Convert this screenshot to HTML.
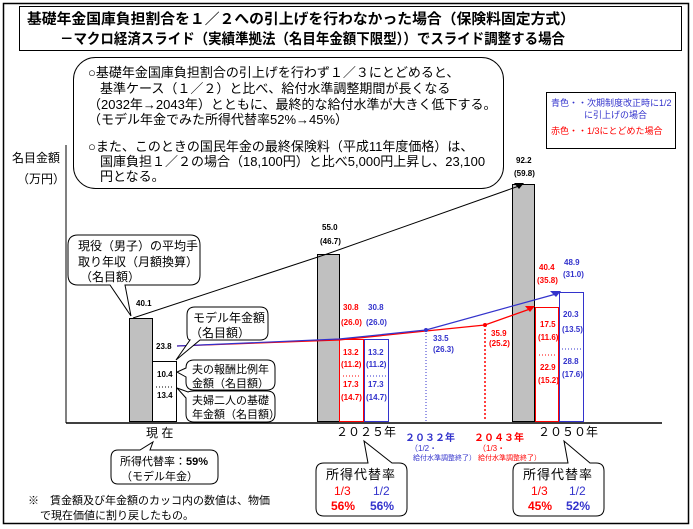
<!DOCTYPE html>
<html><head><meta charset="utf-8"><style>
html,body{margin:0;padding:0;background:#fff}
svg{display:block}
text{font-family:"Liberation Sans","Noto Sans CJK JP",sans-serif}
</style></head><body>
<svg width="693" height="529" viewBox="0 0 693 529" xmlns="http://www.w3.org/2000/svg">
<rect x="3.5" y="3.5" width="685" height="520" fill="#fff" stroke="#000" stroke-width="1.5"/>
<rect x="19.5" y="6.5" width="662" height="44" fill="#fff" stroke="#000"/>
<text x="27" y="24" font-size="14.5" font-weight="bold" textLength="548" lengthAdjust="spacingAndGlyphs">基礎年金国庫負担割合を１／２への引上げを行わなかった場合（保険料固定方式）</text>
<text x="60" y="44" font-size="14.5" font-weight="bold" textLength="505" lengthAdjust="spacingAndGlyphs">－マクロ経済スライド（実績準拠法（名目年金額下限型））でスライド調整する場合</text>

<rect x="73.5" y="57.5" width="430" height="131" rx="22" fill="#fff" stroke="#000"/>
<g font-size="13">
<text x="88" y="77">○基礎年金国庫負担割合の引上げを行わず１／３にとどめると、</text>
<text x="100" y="93">基準ケース（１／２）と比べ、給付水準調整期間が長くなる</text>
<text x="88" y="109">（2032年→2043年）とともに、最終的な給付水準が大きく低下する。</text>
<text x="88" y="124">（モデル年金でみた所得代替率52%→45%）</text>
<text x="88" y="151">○また、このときの国民年金の最終保険料（平成11年度価格）は、</text>
<text x="100" y="166">国庫負担１／２の場合（18,100円）と比べ5,000円上昇し、23,100</text>
<text x="100" y="181">円となる。</text>
</g>

<rect x="546.5" y="92.5" width="129" height="56" fill="#fff" stroke="#000"/>
<text x="551" y="106" font-size="9" fill="#3333cc">青色・・次期制度改正時に1/2</text>
<text x="584" y="118" font-size="9" fill="#3333cc">に引上げの場合</text>
<text x="551" y="134" font-size="9" fill="#ff0000">赤色・・1/3にとどめた場合</text>

<text x="12" y="162" font-size="12">名目金額</text>
<text x="17" y="183" font-size="12">（万円）</text>
<line x1="66" y1="145" x2="66" y2="423" stroke="#000"/>
<line x1="66" y1="423" x2="662" y2="423" stroke="#000" stroke-width="1.5"/>

<rect x="129.5" y="318.5" width="23" height="103" fill="#c0c0c0" stroke="#000"/>
<rect x="152.5" y="361.5" width="24" height="60" fill="#fff" stroke="#000"/>
<line x1="156" y1="387" x2="174" y2="387" stroke="#000" stroke-dasharray="1,2"/>
<rect x="317.5" y="254.5" width="22" height="167" fill="#c0c0c0" stroke="#000"/>
<rect x="339.5" y="339.5" width="24" height="82" fill="#fff" stroke="#f00"/>
<rect x="364.5" y="339.5" width="24" height="82" fill="#fff" stroke="#33c"/>
<line x1="343" y1="376" x2="361" y2="376" stroke="#f00" stroke-dasharray="1,2"/>
<line x1="367" y1="376" x2="386" y2="376" stroke="#33c" stroke-dasharray="1,2"/>
<rect x="512.5" y="184.5" width="22" height="237" fill="#c0c0c0" stroke="#000"/>
<rect x="535.5" y="307.5" width="23" height="114" fill="#fff" stroke="#f00"/>
<rect x="559.5" y="292.5" width="24" height="129" fill="#fff" stroke="#33c"/>
<line x1="539" y1="355" x2="556" y2="355" stroke="#f00" stroke-dasharray="1,2"/>
<line x1="562" y1="349" x2="581" y2="349" stroke="#33c" stroke-dasharray="1,2"/>
<line x1="426" y1="330" x2="426" y2="421" stroke="#33c" stroke-dasharray="1,2"/>
<line x1="485" y1="325" x2="485" y2="421" stroke="#f00" stroke-width="1.5" stroke-dasharray="2,2"/>

<polyline points="133,318 327,254 519,186" fill="none" stroke="#000"/>
<polygon points="514,183 524,183 519,189" fill="#000"/>
<polyline points="177,346 339,340 426,331 485,325 530,309" fill="none" stroke="#f00" stroke-width="1.3"/>
<polygon points="525,306 535,306 530,312" fill="#f00"/>
<polyline points="177,346 339,339 426,330 556,294" fill="none" stroke="#33c" stroke-width="1.2"/>
<polygon points="550,291 561,291 556,297" fill="#33c"/>
<circle cx="426" cy="330" r="2" fill="#33c"/>
<circle cx="485" cy="325" r="2" fill="#f00"/>

<g font-size="8" font-weight="bold">
<text x="136" y="306">40.1</text>
<text x="156" y="349">23.8</text>
<text x="157" y="377">10.4</text>
<text x="157" y="398">13.4</text>
<text x="322" y="230">55.0</text>
<text x="320" y="244">(46.7)</text>
<text x="343" y="310" fill="#f00">30.8</text>
<text x="341" y="325" fill="#f00">(26.0)</text>
<text x="368" y="310" fill="#33c">30.8</text>
<text x="366" y="325" fill="#33c">(26.0)</text>
<text x="343" y="355" fill="#f00">13.2</text>
<text x="341" y="367" fill="#f00">(11.2)</text>
<text x="343" y="387" fill="#f00">17.3</text>
<text x="341" y="400" fill="#f00">(14.7)</text>
<text x="368" y="355" fill="#33c">13.2</text>
<text x="366" y="367" fill="#33c">(11.2)</text>
<text x="368" y="387" fill="#33c">17.3</text>
<text x="366" y="400" fill="#33c">(14.7)</text>
<text x="433" y="341" fill="#33c">33.5</text>
<text x="433" y="352" fill="#33c">(26.3)</text>
<text x="491" y="336" fill="#f00">35.9</text>
<text x="489" y="346" fill="#f00">(25.2)</text>
<text x="516" y="163">92.2</text>
<text x="514" y="176">(59.8)</text>
<text x="539" y="270" fill="#f00">40.4</text>
<text x="537" y="283" fill="#f00">(35.8)</text>
<text x="564" y="265" fill="#33c">48.9</text>
<text x="563" y="277" fill="#33c">(31.0)</text>
<text x="540" y="327" fill="#f00">17.5</text>
<text x="538" y="340" fill="#f00">(11.6)</text>
<text x="540" y="370" fill="#f00">22.9</text>
<text x="538" y="383" fill="#f00">(15.2)</text>
<text x="563" y="317" fill="#33c">20.3</text>
<text x="562" y="332" fill="#33c">(13.5)</text>
<text x="563" y="364" fill="#33c">28.8</text>
<text x="562" y="377" fill="#33c">(17.6)</text>
</g>

<path d="M78,235 H190 Q200,235 200,245 V275 Q200,285 190,285 H125 L131,316 L110,285 H78 Q68,285 68,275 V245 Q68,235 78,235 Z" fill="#fff" stroke="#000"/>
<text x="78" y="250" font-size="12">現役（男子）の平均手</text>
<text x="78" y="266" font-size="12">取り年収（月額換算）</text>
<text x="80" y="281" font-size="12">（名目額）</text>

<path d="M195,307 H260 Q268,307 268,315 V332 Q268,340 260,340 H200 L176,360 L190,340 Q187,340 187,332 V315 Q187,307 195,307 Z" fill="#fff" stroke="#000"/>
<text x="193" y="322" font-size="12">モデル年金額</text>
<text x="190" y="337" font-size="12">（名目額）</text>

<path d="M194,360 H267 Q275,360 275,368 V382 Q275,390 267,390 H194 Q186,390 186,382 V377 L177,372 L186,368 Q186,360 194,360 Z" fill="#fff" stroke="#000"/>
<text x="192" y="373" font-size="11">夫の報酬比例年</text>
<text x="192" y="387" font-size="11">金額（名目額）</text>
<path d="M194,391 H267 Q275,391 275,399 V414 Q275,422 267,422 H194 Q186,422 186,414 V398 L177,388 L188,392 Q190,391 194,391 Z" fill="#fff" stroke="#000"/>
<text x="192" y="404" font-size="11">夫婦二人の基礎</text>
<text x="192" y="418" font-size="11">年金額（名目額）</text>

<text x="146" y="437" font-size="12">現 在</text>
<text x="336" y="436" font-size="12">２０２５年</text>
<text x="538" y="436" font-size="12">２０５０年</text>
<text x="405" y="441" font-size="10" font-weight="bold" fill="#33c">２０３２年</text>
<text x="410" y="451" font-size="8" fill="#33c">（1/2・</text>
<text x="413" y="460" font-size="7" fill="#33c">給付水準調整終了）</text>
<text x="474" y="441" font-size="10" font-weight="bold" fill="#f00">２０４３年</text>
<text x="478" y="451" font-size="8" fill="#f00">（1/3・</text>
<text x="478" y="460" font-size="7" fill="#f00">給付水準調整終了）</text>

<path d="M118,450 H140 L153,442 L150,450 H210 Q218,450 218,458 V476 Q218,484 210,484 H118 Q111,484 111,476 V458 Q111,450 118,450 Z" fill="#fff" stroke="#000"/>
<text x="120" y="465" font-size="11">所得代替率：<tspan font-weight="bold">59%</tspan></text>
<text x="121" y="480" font-size="11">（モデル年金）</text>

<path d="M324,463 H368 L364,441 L392,463 H399 Q407,463 407,471 V508 Q407,516 399,516 H324 Q316,516 316,508 V471 Q316,463 324,463 Z" fill="#fff" stroke="#000"/>
<text x="326" y="479" font-size="13" letter-spacing="1">所得代替率</text>
<text x="334" y="495" font-size="12" fill="#f00">1/3</text>
<text x="373" y="495" font-size="12" fill="#33c">1/2</text>
<text x="331" y="510" font-size="12" font-weight="bold" fill="#f00">56%</text>
<text x="370" y="510" font-size="12" font-weight="bold" fill="#33c">56%</text>

<path d="M521,463 H568 L564,441 L590,463 H596 Q604,463 604,471 V508 Q604,516 596,516 H521 Q513,516 513,508 V471 Q513,463 521,463 Z" fill="#fff" stroke="#000"/>
<text x="523" y="479" font-size="13" letter-spacing="1">所得代替率</text>
<text x="531" y="495" font-size="12" fill="#f00">1/3</text>
<text x="569" y="495" font-size="12" fill="#33c">1/2</text>
<text x="528" y="510" font-size="12" font-weight="bold" fill="#f00">45%</text>
<text x="566" y="510" font-size="12" font-weight="bold" fill="#33c">52%</text>

<text x="28" y="504" font-size="11">※　賃金額及び年金額のカッコ内の数値は、物価</text>
<text x="40" y="519" font-size="11">で現在価値に割り戻したもの。</text>
</svg>
</body></html>
